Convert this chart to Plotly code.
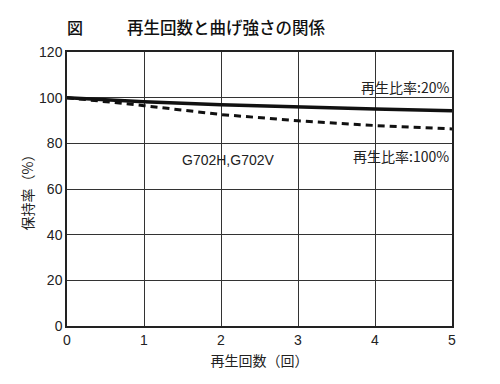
import plotly.graph_objects as go

cycles = [0, 1, 2, 3, 4, 5]
ratio20 = [100, 98.2, 96.9, 95.8, 95.0, 94.3]
ratio100 = [100, 96.5, 92.6, 89.9, 87.8, 86.3]
xticks = [0, 1, 2, 3, 4, 5]
yticks = [0, 20, 40, 60, 80, 100, 120]

JP = "Noto Sans CJK JP"
NUM = "Liberation Sans, Arial, sans-serif"

fig = go.Figure()
fig.add_trace(go.Scatter(x=cycles, y=ratio20, mode="lines",
                         line=dict(color="#111", width=3.5), showlegend=False))
fig.add_trace(go.Scatter(x=cycles, y=ratio100, mode="lines",
                         line=dict(color="#111", width=3, dash="7px,5px"), showlegend=False))

fig.update_layout(
    width=500, height=384,
    margin=dict(l=59, r=56, t=44, b=66),
    paper_bgcolor="white", plot_bgcolor="white",
    font=dict(family=NUM, color="#222", size=14),
    xaxis=dict(range=[0, 5], tickvals=xticks, showgrid=True, gridcolor="#333", gridwidth=1,
               showline=True, linecolor="#222", linewidth=1.5, mirror=True, zeroline=False,
               ticks="", ticklen=0, tickfont=dict(size=14),
               title=dict(text="再生回数（回）", font=dict(family=JP, size=14), standoff=10)),
    yaxis=dict(range=[0, 120], tickvals=yticks, showgrid=True, gridcolor="#333", gridwidth=1,
               showline=True, linecolor="#222", linewidth=1.5, mirror=True, zeroline=False,
               ticks="", tickfont=dict(size=14),
               title=dict(text="保持率（%）", font=dict(family=JP, size=14), standoff=2)),
)

fig.add_annotation(text="図", xref="paper", yref="paper", x=-0.005, y=1.0, yshift=25,
                   xanchor="left", yanchor="middle", showarrow=False,
                   font=dict(family=JP, size=16, color="#111", weight=500))
fig.add_annotation(text="再生回数と曲げ強さの関係", xref="paper", yref="paper", x=0.151, y=1.0, yshift=25,
                   xanchor="left", yanchor="middle", showarrow=False,
                   font=dict(family=JP, size=16.5, color="#111", weight=500))
fig.add_annotation(text="再生比率:20%", x=5, y=100, xanchor="right", yanchor="bottom",
                   showarrow=False, xshift=-1, yshift=-1,
                   font=dict(family=JP, size=14, color="#222"))
fig.add_annotation(text="再生比率:100%", x=5, y=80, xanchor="right", yanchor="top",
                   showarrow=False, xshift=-1, yshift=-1,
                   font=dict(family=JP, size=14, color="#222"))
fig.add_annotation(text="G702H,G702V", x=1.47, y=72.6, xanchor="left", yanchor="middle",
                   showarrow=False, font=dict(family=NUM, size=14, color="#222"))

fig.write_html("out.html")
